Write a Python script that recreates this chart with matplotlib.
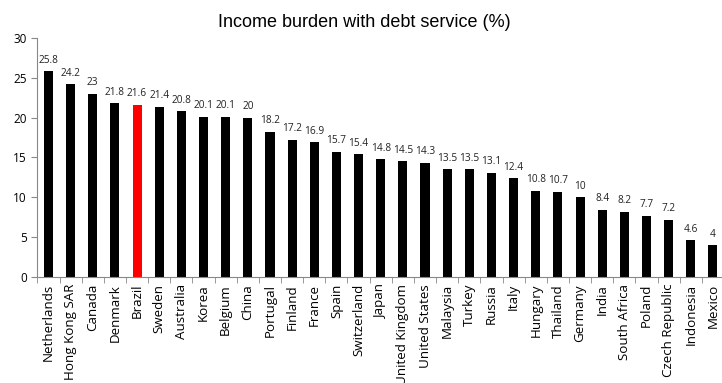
import matplotlib.pyplot as plt
import numpy as np

countries = ["Netherlands", "Hong Kong SAR", "Canada", "Denmark", "Brazil", "Sweden",
             "Australia", "Korea", "Belgium", "China", "Portugal", "Finland", "France",
             "Spain", "Switzerland", "Japan", "United Kingdom", "United States", "Malaysia",
             "Turkey", "Russia", "Italy", "Hungary", "Thailand", "Germany", "India",
             "South Africa", "Poland", "Czech Republic", "Indonesia", "Mexico"]
burden = [25.8, 24.2, 23, 21.8, 21.6, 21.4, 20.8, 20.1, 20.1, 20, 18.2, 17.2, 16.9,
          15.7, 15.4, 14.8, 14.5, 14.3, 13.5, 13.5, 13.1, 12.4, 10.8, 10.7, 10, 8.4,
          8.2, 7.7, 7.2, 4.6, 4]
labels = ["25.8", "24.2", "23", "21.8", "21.6", "21.4", "20.8", "20.1", "20.1", "20",
          "18.2", "17.2", "16.9", "15.7", "15.4", "14.8", "14.5", "14.3", "13.5", "13.5",
          "13.1", "12.4", "10.8", "10.7", "10", "8.4", "8.2", "7.7", "7.2", "4.6", "4"]

colors = ["red" if c == "Brazil" else "black" for c in countries]
x = np.arange(len(countries))

fig = plt.figure(figsize=(7.22, 3.83), dpi=100)
ax = fig.add_axes([0.0518, 0.2768, 0.951, 0.624])
ax.bar(x, burden, width=0.41, color=colors)

# value labels above each bar
for xi, v, t in zip(x, burden, labels):
    ax.text(xi, v + 0.7, t, ha="center", va="bottom", fontsize=7.3,
            family="Open Sans", color="#222222")

ax.set_xlim(-0.5, len(countries) - 0.5)
ax.set_ylim(0, 30)
ax.set_yticks(range(0, 31, 5))
ax.set_xticks(x)
ax.set_xticklabels(countries, rotation=90, fontsize=9.6, family="Open Sans")
ax.set_xticks(np.arange(-0.5, len(countries), 1), minor=True)
ax.tick_params(axis="x", which="major", length=0, pad=5)
ax.tick_params(axis="x", which="minor", length=4, color="#888888")
ax.tick_params(axis="y", labelsize=8.5, length=4, color="#888888")
for lab in ax.get_yticklabels():
    lab.set_family("Open Sans")

for s in ["top", "right"]:
    ax.spines[s].set_visible(False)
ax.spines["left"].set_color("#888888")
ax.spines["bottom"].set_color("#888888")

fig.text(0.504, 0.942, "Income burden with debt service (%)", ha="center", va="center",
         fontsize=13, family="Liberation Sans")

fig.savefig("out.png", dpi=100)
